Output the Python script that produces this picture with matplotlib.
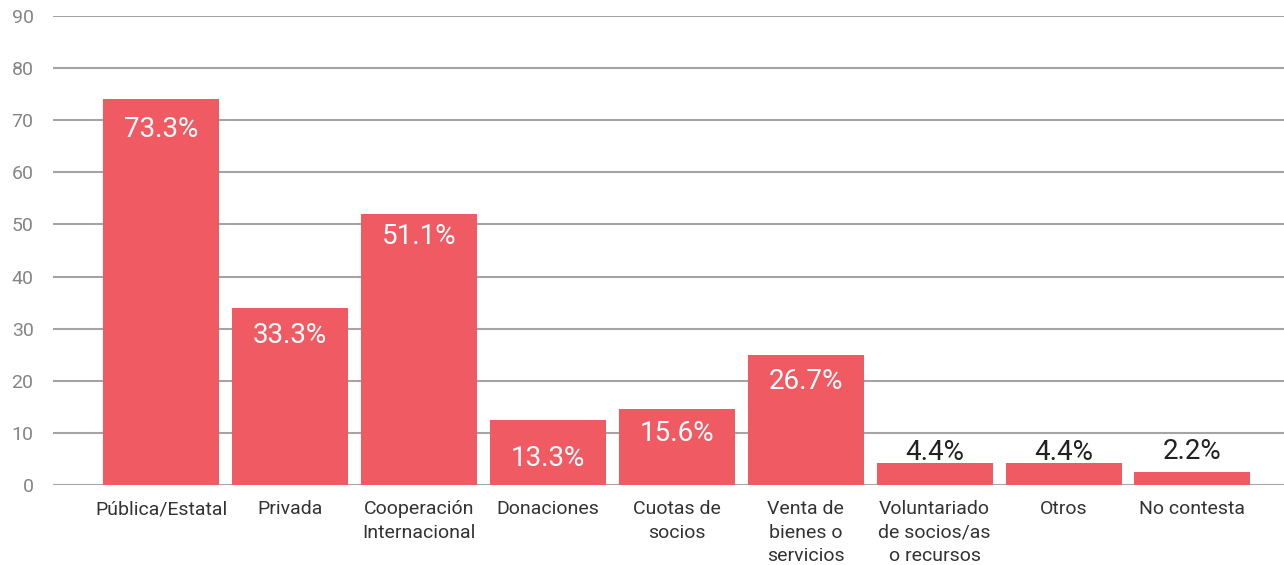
import matplotlib
matplotlib.use("Agg")
import matplotlib.pyplot as plt

# ---- data ----
categories = ["Pública/Estatal", "Privada", "Cooperación\nInternacional", "Donaciones",
              "Cuotas de\nsocios", "Venta de\nbienes o\nservicios",
              "Voluntariado\nde socios/as\no recursos", "Otros", "No contesta"]
bar_heights = [74.1, 34.0, 52.0, 12.5, 14.6, 25.0, 4.2, 4.2, 2.5]
value_labels = ["73.3%", "33.3%", "51.1%", "13.3%", "15.6%", "26.7%", "4.4%", "4.4%", "2.2%"]
y_ticks = [0, 10, 20, 30, 40, 50, 60, 70, 80, 90]

# label placement (pixels from bar top; negative = above the bar)
label_offsets_px = [31, 28, 22, 39, 25, 27, -11, -11, -20]

BAR_COLOR = "#F05A62"
GRID_COLOR = "#A4A4A4"
FONT = ["Roboto", "DejaVu Sans"]

plt.rcParams["font.family"] = FONT

fig = plt.figure(figsize=(12.84, 5.65), dpi=100)
ax = fig.add_axes([53 / 1284, 80 / 565, 1231 / 1284, 469 / 565])

x = range(len(categories))
ax.bar(x, bar_heights, width=0.9, color=BAR_COLOR, zorder=3)

for i, (h, lab, off) in enumerate(zip(bar_heights, value_labels, label_offsets_px)):
    inside = off > 0
    ax.annotate(lab, (i, h), xytext=(0, -off * 0.72), textcoords="offset points",
                ha="center", va="center", fontsize=20,
                color="white" if inside else "#222222", zorder=4)

ax.set_xlim(-0.84, 8.71)
ax.set_ylim(0, 90)
ax.set_yticks(y_ticks)
ax.set_xticks(list(x))
ax.set_xticklabels(categories, fontsize=14, color="#333333", linespacing=1.4, va="top")
ax.tick_params(axis="y", length=0, pad=14, labelsize=14, labelcolor="#858585")
ax.tick_params(axis="x", length=0, pad=11)

ax.grid(axis="y", color=GRID_COLOR, linewidth=1.5, zorder=0)
ax.set_axisbelow(True)
for s in ax.spines.values():
    s.set_visible(False)

fig.savefig("out.png", dpi=100)
